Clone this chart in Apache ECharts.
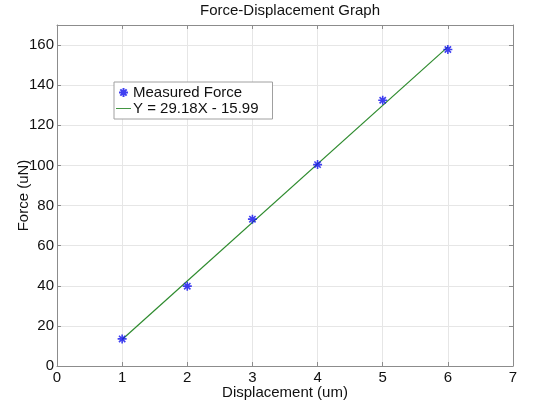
<!DOCTYPE html>
<html><head><meta charset="utf-8">
<script src="https://cdn.jsdelivr.net/npm/echarts@6/dist/echarts.min.js"></script>
<style>html,body{margin:0;padding:0;background:#fff}#c{width:537px;height:405px}</style>
</head><body><div id="c"></div>
<script>
var displacement = [1, 2, 3, 4, 5, 6];
var measuredForce = [13.5, 39.8, 73.2, 100.4, 132.5, 157.8];
var fitX = [1, 6];
var fitY = [13.19, 159.09];
var xTicks = [0, 1, 2, 3, 4, 5, 6, 7];
var yTicks = [0, 20, 40, 60, 80, 100, 120, 140, 160];

var FONT = 'Liberation Sans';
var star = 'path://M5,0 L5,10 M0,5 L10,5 M1.5,1.5 L8.5,8.5 M8.5,1.5 L1.5,8.5';
var chart = echarts.init(document.getElementById('c'), null, {renderer: 'canvas'});
var gridColor = '#e6e6e6';
var axisColor = '#8c8c8c';
chart.setOption({
  animation: false,
  backgroundColor: '#fff',
  title: {text: 'Force-Displacement Graph', left: 285, textAlign: 'center', top: -2,
    textStyle: {fontFamily: FONT, fontSize: 15, fontWeight: 'normal', color: '#111'}},
  grid: {left: 57, right: 24, top: 25, bottom: 39, containLabel: false, outerBoundsMode: 'none'},
  legend: {
    orient: 'vertical', left: 114, top: 82, padding: [3, 14, 3, 2], itemGap: 1,
    itemWidth: 15, itemHeight: 9,
    backgroundColor: '#fff', borderColor: '#a0a0a0', borderWidth: 1,
    textStyle: {fontFamily: FONT, fontSize: 15, color: '#111', padding: [0,0,0,-3]},
    data: [
      {name: 'Measured Force', icon: star},
      {name: 'Y = 29.18X - 15.99', icon: 'path://M0,4.4 L20,4.4 L20,5.6 L0,5.6 Z', itemStyle: {color: '#2e8b2e', borderWidth: 0}}
    ]
  },
  xAxis: [{
    type: 'value', min: xTicks[0], max: xTicks[xTicks.length-1], interval: 1,
    name: 'Displacement (um)', nameLocation: 'middle', nameGap: 19, nameMoveOverlap: false,
    nameTextStyle: {fontFamily: FONT, fontSize: 15, color: '#111'},
    axisLine: {lineStyle: {color: axisColor}},
    axisTick: {inside: true, length: 4, lineStyle: {color: axisColor}},
    axisLabel: {fontFamily: FONT, fontSize: 15, color: '#111', margin: 4},
    splitLine: {show: true, lineStyle: {color: gridColor}}
  }, {
    type: 'value', position: 'top', min: 0, max: 7, interval: 1,
    axisLine: {show: true, onZero: false, lineStyle: {color: axisColor}},
    axisTick: {show: true, inside: true, length: 4, lineStyle: {color: axisColor}},
    axisLabel: {show: false}, splitLine: {show: false}
  }],
  yAxis: [{
    type: 'value', min: 0, max: 170, interval: 20,
    name: 'Force (uN)', nameLocation: 'middle', nameGap: 26, nameMoveOverlap: false,
    nameTextStyle: {fontFamily: FONT, fontSize: 15, color: '#111'},
    axisLine: {show: true, lineStyle: {color: axisColor}},
    axisTick: {show: true, inside: true, length: 4, lineStyle: {color: axisColor}},
    axisLabel: {fontFamily: FONT, fontSize: 15, color: '#111', margin: 3,
      formatter: function (v) { return yTicks.indexOf(v) >= 0 ? String(v) : ''; }},
    splitLine: {show: true, lineStyle: {color: gridColor}}
  }, {
    type: 'value', position: 'right', min: 0, max: 170, interval: 20,
    axisLine: {show: true, onZero: false, lineStyle: {color: axisColor}},
    axisTick: {show: true, inside: true, length: 4, lineStyle: {color: axisColor}},
    axisLabel: {show: false}, splitLine: {show: false}
  }],
  series: [{
    name: 'Measured Force', type: 'scatter', symbol: star, symbolSize: 9,
    itemStyle: {color: 'transparent', borderColor: '#1010ee', borderWidth: 1.6},
    data: displacement.map(function (x, i) { return [x, measuredForce[i]]; }),
    z: 5
  }, {
    name: 'Y = 29.18X - 15.99', type: 'line', showSymbol: false, symbol: 'none',
    lineStyle: {color: '#2e8b2e', width: 1.2},
    itemStyle: {color: '#2e8b2e'},
    data: fitX.map(function (x, i) { return [x, fitY[i]]; }),
    z: 4
  }]
});
</script></body></html>
